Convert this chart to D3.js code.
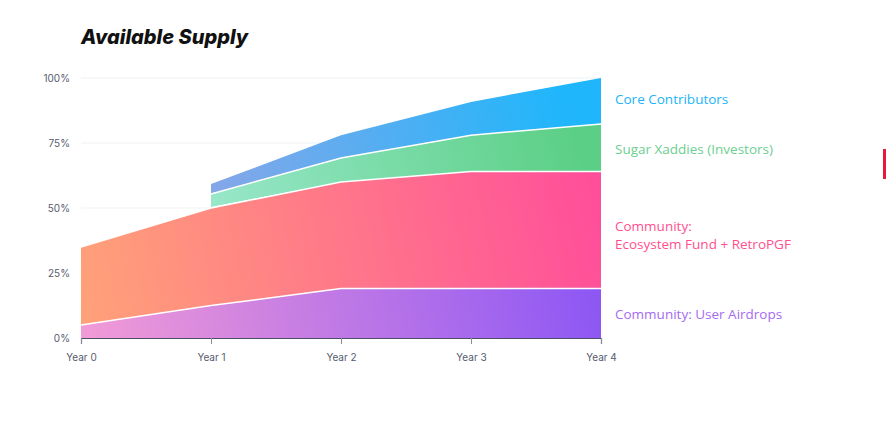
<!DOCTYPE html>
<html><head><meta charset="utf-8">
<script src="https://cdn.jsdelivr.net/npm/d3@7"></script>
<style>
html,body{margin:0;padding:0;background:#fff;}
svg{display:block;}
</style></head>
<body><svg id="c" width="886" height="441"></svg>
<script>
const years = ["Year 0","Year 1","Year 2","Year 3","Year 4"];
const yTicks = [0,25,50,75,100];
// cumulative top boundaries (% of total supply)
const airdropsTop   = [5, 12.5, 19, 19, 19];
const ecosystemTop  = [35, 50, 60, 64, 64];
const investorsTop  = [null, 55.4, 69.2, 78, 82.3];
const coreTop       = [null, 59.2, 78, 90.8, 100];
const seriesNames = ["Community: User Airdrops","Community:\nEcosystem Fund + RetroPGF","Sugar Xaddies (Investors)","Core Contributors"];
const labelColors = ["#a56cf0","#ff4f8f","#6ccf91","#22b4f6"];
const gradStops = [["#f29bd6","#8a55f5"],["#ffa278","#ff4f9a"],["#9de9cf","#5ccf86"],["#90a5e6","#1fb6fb"]];

const svg = d3.select("#c");
const x = d3.scalePoint().domain(years).range([81,601]);
const y = d3.scaleLinear().domain([0,100]).range([338,78]);

const layers = [
  {top: airdropsTop, bottom: years.map(()=>0)},
  {top: ecosystemTop, bottom: airdropsTop},
  {top: investorsTop, bottom: ecosystemTop.map((v,i)=> i===0?null: v + (i===1?0.4:0))},
  {top: coreTop, bottom: investorsTop}
];

const defs = svg.append("defs");
gradStops.forEach((s,i)=>{
  const k0 = layers[i].top.findIndex(v=>v!=null);
  const g = defs.append("linearGradient").attr("id","g"+i)
    .attr("gradientUnits","userSpaceOnUse")
    .attr("x1",x(years[k0])).attr("y1",y(0)).attr("x2",x(years[4])).attr("y2",y(40));
  g.append("stop").attr("offset","0%").attr("stop-color",s[0]);
  g.append("stop").attr("offset","100%").attr("stop-color",s[1]);
});

// gridlines
svg.append("g").selectAll("line").data(yTicks.filter(d=>d>0)).join("line")
  .attr("x1",81).attr("x2",601).attr("y1",d=>y(d)).attr("y2",d=>y(d))
  .attr("stroke","#eef1f5").attr("stroke-width",1);

layers.forEach((L,i)=>{
  const data = years.map((yr,k)=>({yr, t:L.top[k], b:L.bottom[k]})).filter(d=>d.t!=null && d.b!=null);
  const area = d3.area().x(d=>x(d.yr)).y0(d=>y(d.b)).y1(d=>y(d.t));
  svg.append("path").datum(data).attr("d",area).attr("fill",`url(#g${i})`);
});
// white separator lines
layers.forEach((L,i)=>{
  if(i===3) return;
  const data = years.map((yr,k)=>({yr, t:L.top[k]})).filter(d=>d.t!=null);
  const line = d3.line().x(d=>x(d.yr)).y(d=>y(d.t));
  svg.append("path").datum(data).attr("d",line).attr("fill","none").attr("stroke","#fff").attr("stroke-width",1.5);
});

// y axis labels
svg.append("g").selectAll("text").data(yTicks).join("text")
  .attr("x",70).attr("y",d=>y(d)+3.5).attr("text-anchor","end")
  .attr("font-family","Inter, 'Open Sans', sans-serif").attr("font-size",10).attr("fill","#555b6e")
  .text(d=>d+"%");

// x axis
const xa = svg.append("g").attr("transform","translate(0,338)")
  .call(d3.axisBottom(x).tickSize(6).tickPadding(10));
xa.select(".domain").attr("stroke","#4b5068").attr("stroke-width",1.2);
xa.selectAll(".tick line").attr("stroke","#888c9c");
xa.selectAll(".tick text").attr("font-family","Inter, 'Open Sans', sans-serif").attr("font-size",10).attr("fill","#555b6e");

// title
svg.append("text").attr("x",81).attr("y",44)
  .attr("font-family","Inter, sans-serif").attr("font-weight",800).attr("font-style","italic")
  .attr("font-size",20).attr("fill","#111").text("Available Supply");

// labels
const labelY = [314, 226, 149, 99];
seriesNames.forEach((n,i)=>{
  const t = svg.append("text").attr("x",615).attr("y",labelY[i]+5)
    .attr("font-family","'Open Sans', sans-serif").attr("font-size",13.5).attr("fill",labelColors[i]);
  n.split("\n").forEach((ln,j)=>{
    t.append("tspan").attr("x",615).attr("dy", j===0?0:18).text(ln);
  });
});

// cropped neighboring element at right edge
svg.append("rect").attr("x",883).attr("y",149).attr("width",3).attr("height",30).attr("fill","#e8183c");
</script></body></html>
